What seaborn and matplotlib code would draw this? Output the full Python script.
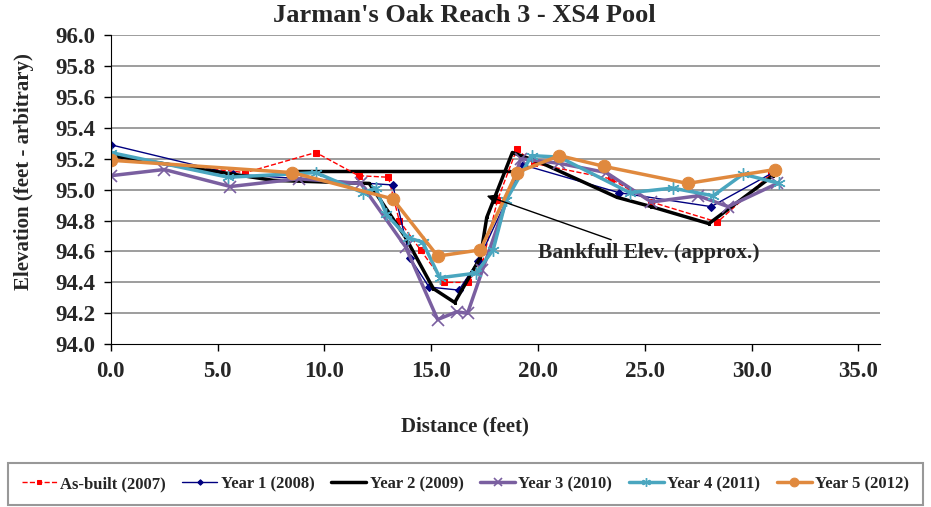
import matplotlib
matplotlib.use("Agg")
import matplotlib.pyplot as plt
import seaborn as sns

# surveyed cross-section data (distance ft, elevation ft)
asbuilt_x = [0.0, 6.3, 9.6, 11.6, 13.0, 13.5, 14.5, 15.6, 16.7, 17.4, 18.1, 19.0, 19.8, 23.4, 25.3, 28.4, 30.9]
asbuilt_y = [95.20, 95.11, 95.24, 95.09, 95.08, 94.80, 94.61, 94.40, 94.40, 94.53, 94.93, 95.26, 95.17, 95.07, 94.92, 94.79, 95.10]

yr1_x = [0.0, 5.7, 13.2, 14.0, 14.9, 16.3, 17.2, 19.3, 23.8, 28.1, 31.0]
yr1_y = [95.29, 95.10, 95.03, 94.56, 94.37, 94.35, 94.54, 95.16, 94.98, 94.89, 95.11]

yr2_x = [0.0, 7.6, 12.1, 13.8, 15.1, 16.1, 17.3, 17.6, 18.8, 20.2, 23.7, 25.3, 28.0, 31.0]
yr2_y = [95.22, 95.06, 95.04, 94.69, 94.36, 94.27, 94.56, 94.82, 95.24, 95.17, 94.95, 94.89, 94.78, 95.09]

yr3_x = [0.0, 2.5, 5.6, 8.8, 11.7, 13.8, 15.3, 16.2, 16.7, 17.4, 19.2, 21.0, 23.2, 25.3, 27.5, 28.9, 31.2]
yr3_y = [95.09, 95.13, 95.02, 95.07, 95.04, 94.63, 94.16, 94.21, 94.20, 94.48, 95.20, 95.17, 95.11, 94.92, 94.96, 94.89, 95.04]

yr4_x = [0.0, 5.5, 9.6, 11.8, 12.4, 12.9, 13.9, 14.6, 15.4, 17.1, 17.9, 18.5, 19.7, 21.0, 24.3, 26.3, 28.2, 29.6, 31.3]
yr4_y = [95.24, 95.08, 95.11, 94.98, 95.01, 94.84, 94.69, 94.66, 94.43, 94.46, 94.61, 94.93, 95.22, 95.21, 94.98, 95.01, 94.96, 95.10, 95.04]

yr5_x = [0.0, 8.5, 13.2, 15.3, 17.3, 19.0, 21.0, 23.1, 27.0, 31.1]
yr5_y = [95.19, 95.11, 94.94, 94.57, 94.61, 95.11, 95.22, 95.15, 95.04, 95.13]

bankfull_x = [8.7, 18.7]
bankfull_y = [95.12, 95.12]

xticks = [0, 5, 10, 15, 20, 25, 30, 35]
yticks = [94.0, 94.2, 94.4, 94.6, 94.8, 95.0, 95.2, 95.4, 95.6, 95.8, 96.0]

sns.set_style("white")
plt.rcParams['font.family'] = ['Liberation Serif', 'DejaVu Serif']
plt.rcParams['font.weight'] = 'bold'

fig = plt.figure(figsize=(9.31, 5.07), dpi=100)
ax = fig.add_axes([0.119, 0.321, 0.826, 0.610])

for yv in yticks[1:]:
    ax.axhline(yv, color='#8c8c8c', lw=1.2, zorder=0)

series = [
    ('As-built (2007)', asbuilt_x, asbuilt_y, dict(color='#FF0000', lw=1, linestyle='--', marker='s', markersize=5)),
    ('Year 1 (2008)', yr1_x, yr1_y, dict(color='#000080', lw=1, marker='D', markersize=4)),
    ('Year 2 (2009)', yr2_x, yr2_y, dict(color='black', lw=2.5, marker='s', markersize=2)),
    ('Year 3 (2010)', yr3_x, yr3_y, dict(color='#7A5FA0', lw=2.5, marker='x', markersize=8, markeredgewidth=1.2)),
    ('Year 4 (2011)', yr4_x, yr4_y, dict(color='#4AA6BF', lw=2.5, marker=(6, 2, 0), markersize=9, markeredgewidth=1)),
    ('Year 5 (2012)', yr5_x, yr5_y, dict(color='#E0893E', lw=2.5, marker='o', markersize=9)),
]
for label, xs, ys, kw in series:
    sns.lineplot(x=xs, y=ys, ax=ax, sort=False, label=label, estimator=None,
                 markeredgecolor=kw['color'], markerfacecolor=kw['color'], **kw)

# approximate bankfull elevation line
ax.plot(bankfull_x, bankfull_y, color='black', lw=2.5, zorder=1)
ax.annotate('Bankfull Elev. (approx.)', xy=(17.6, 94.96), xytext=(20.0, 94.59),
            fontsize=15.5, fontweight='bold', va='center',
            arrowprops=dict(arrowstyle='-|>', color='black', lw=1, shrinkA=0, shrinkB=0))

ax.set_xlim(0, 36)
ax.set_ylim(94.0, 96.0)
ax.set_xticks(xticks)
ax.set_xticklabels([f'{t:.1f}' for t in xticks])
ax.set_yticks(yticks)
ax.set_yticklabels([f'{t:.1f}' for t in yticks])
ax.tick_params(axis='both', labelsize=16.5, direction='out', length=5, width=1, color='black',
               bottom=True, left=True)
ax.tick_params(axis='x', pad=7)
ax.tick_params(axis='y', pad=6)
for lab in ax.get_xticklabels() + ax.get_yticklabels():
    lab.set_fontweight('bold')

sns.despine(ax=ax)
ax.spines['left'].set_color('black')
ax.spines['bottom'].set_color('black')

ax.set_title("Jarman's Oak Reach 3 - XS4 Pool", fontsize=19, fontweight='bold', pad=9, x=0.46)
ax.set_xlabel('Distance (feet)', fontsize=15, fontweight='bold')
ax.set_ylabel('Elevation (feet - arbitrary)', fontsize=15, fontweight='bold')
ax.xaxis.set_label_coords(0.46, -0.235)
ax.yaxis.set_label_coords(-0.1, 0.557)

handles, labels = ax.get_legend_handles_labels()
ax.legend_.remove()
leg = fig.legend(handles, labels, loc='lower center', bbox_to_anchor=(0.5, 0.0), ncol=6,
                 fontsize=12, frameon=True, fancybox=False, edgecolor='#7f7f7f',
                 handlelength=2.1, columnspacing=1.0, borderpad=0.8, handletextpad=0.2,
                 borderaxespad=0.1, markerscale=0.7)
leg.get_frame().set_linewidth(1.5)
for t in leg.get_texts():
    t.set_fontweight('bold')

fig.savefig('out.png', dpi=100)
